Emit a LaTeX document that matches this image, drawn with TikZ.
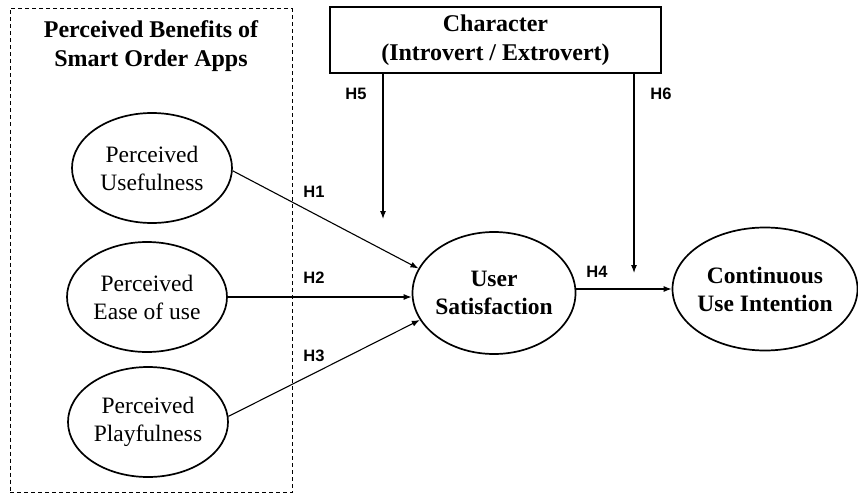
\documentclass[tikz,border=0pt]{standalone}
\usepackage{fontspec}
\setmainfont{Liberation Serif}
\newfontfamily\hypfont{Liberation Sans}
\usetikzlibrary{shapes.geometric,arrows.meta,positioning}

\begin{document}
\begin{tikzpicture}[->,>={Latex[length=8pt,width=6pt]},line width=1.1pt,x=1pt,y=-1pt,
	construct/.style={ellipse,draw,line width=1.7pt,inner xsep=-6pt,inner ysep=0pt,align=center,
		minimum width=160pt,minimum height=110pt,font=\fontsize{23.5}{28}\selectfont},
	outcome/.style={construct,font=\fontsize{23.5}{28}\selectfont\bfseries},
	hyp/.style={inner sep=1pt,font=\hypfont\fontsize{16.5}{18}\selectfont\bfseries}]
	\useasboundingbox (0,0) rectangle (858,495);

	% group of perceived benefits
	\node [draw,line width=0.9pt,dash pattern=on 4pt off 3pt,minimum width=282pt,minimum height=484pt] at (151,250.5) (benefits) {};
	\node [align=center,font=\fontsize{24}{29}\selectfont\bfseries] at (151,46) (benefitstitle) {Perceived Benefits of\\Smart Order Apps};
	\node [construct] at (152,168) (pu) {Perceived\\Usefulness};
	\node [construct] at (147,297) (pe) {Perceived\\Ease of use};
	\node [construct] at (148,422) (pp) {Perceived\\Playfulness};

	\node [outcome,minimum width=163pt,minimum height=122pt] at (494,293) (us) {User\\Satisfaction};
	\node [outcome,minimum width=185pt,minimum height=123pt] at (765,289) (cui) {Continuous\\Use Intention};

	% moderator
	\node [draw,line width=1.7pt,minimum width=331pt,minimum height=66pt,align=center,
		font=\fontsize{24}{29}\selectfont\bfseries] at (495.5,40) (char) {Character\\(Introvert / Extrovert)};
	\coordinate (h5end) at (383,219);
	\coordinate (h6end) at (634,273);

	\path[->]
	(pu.-2) edge (us.162)
	(pe.east) edge (pe.east -| us.west)
	(pp.4) edge (us.200)
	(cui.west -| us.east) edge (cui.west)
	(char.south -| h5end) edge (h5end)
	(char.south -| h6end) edge (h6end);

	\node [hyp] at (314,192) (h1) {H1};
	\node [hyp] at (314,278) (h2) {H2};
	\node [hyp] at (314,356) (h3) {H3};
	\node [hyp] at (597,272) (h4) {H4};
	\node [hyp] at (356,94) (h5) {H5};
	\node [hyp] at (661,94) (h6) {H6};
\end{tikzpicture}
\end{document}
